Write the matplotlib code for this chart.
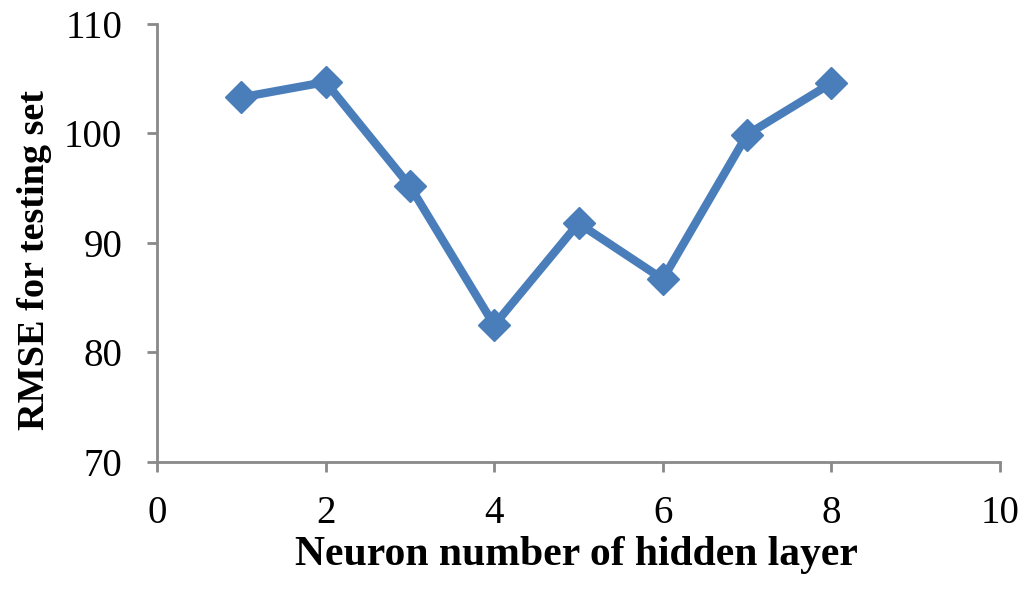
import matplotlib
matplotlib.use('Agg')
import matplotlib.pyplot as plt

# Datos
neuronas = [1, 2, 3, 4, 5, 6, 7, 8]
rmse = [103.3, 104.7, 95.2, 82.5, 91.8, 86.7, 99.9, 104.6]
xticks = [0, 2, 4, 6, 8, 10]
yticks = [70, 80, 90, 100, 110]

plt.rcParams['font.family'] = ['Liberation Serif', 'DejaVu Serif']

fig = plt.figure(figsize=(10.24, 5.91), dpi=100)
ax = fig.add_axes([0.1533, 0.2183, 0.8233, 0.7411])

color = '#4A7EBB'
ax.plot(neuronas, rmse, color=color, linewidth=6, marker='D',
        markersize=16, markerfacecolor=color, markeredgecolor=color)

ax.set_xlim(0, 10)
ax.set_ylim(70, 110)
ax.set_xticks(xticks)
ax.set_yticks(yticks)

gris = '#898989'
for lado in ['top', 'right']:
    ax.spines[lado].set_visible(False)
for lado in ['left', 'bottom']:
    ax.spines[lado].set_color(gris)
    ax.spines[lado].set_linewidth(2)
ax.tick_params(axis='both', direction='out', length=7, width=2, color=gris,
               labelsize=28)
ax.tick_params(axis='x', pad=17)
ax.tick_params(axis='y', pad=18)

ax.set_xlabel('Neuron number of hidden layer', fontsize=30, fontweight='bold')
ax.set_ylabel('RMSE for testing set', fontsize=27.5, fontweight='bold')
ax.xaxis.set_label_coords(0.497, -0.168)
ax.yaxis.set_label_coords(-0.124, 0.461)

fig.savefig('out.png', dpi=100)
